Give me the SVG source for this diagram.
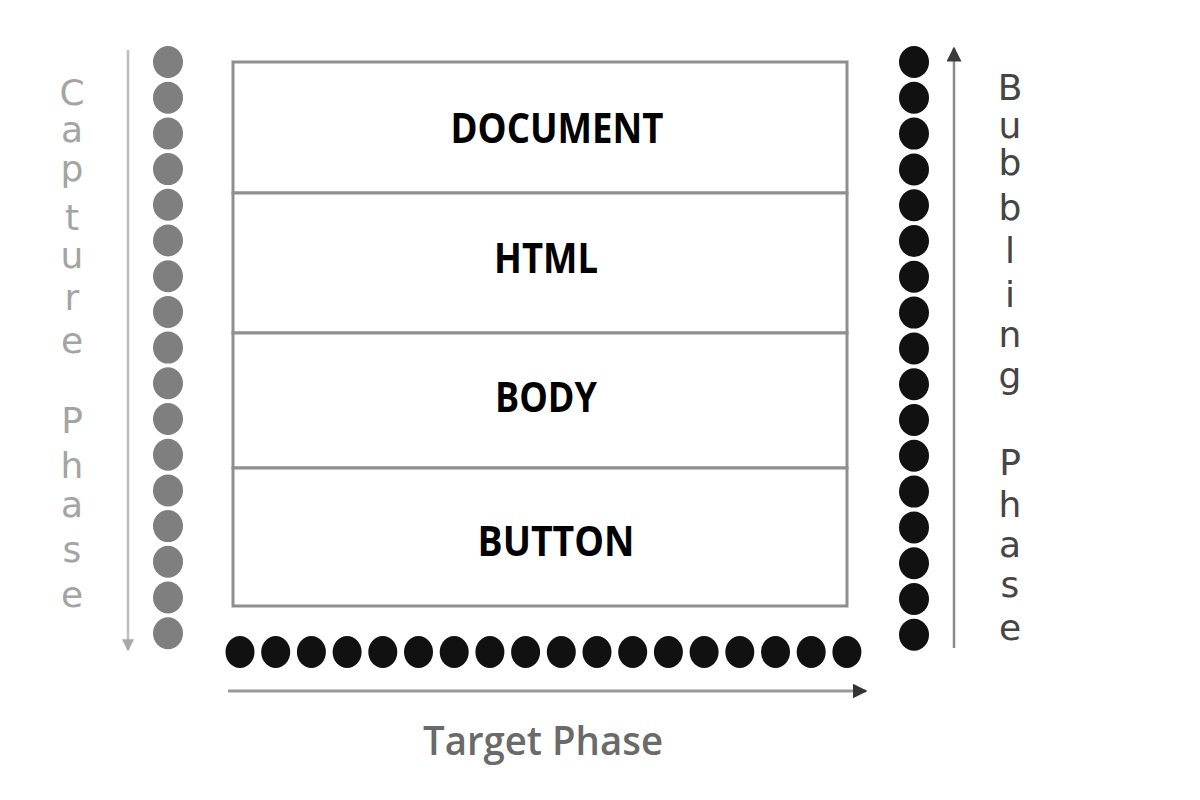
<svg xmlns="http://www.w3.org/2000/svg" width="1200" height="800" viewBox="0 0 1200 800">
  <style>
    .layer { fill: #ffffff; stroke: #8f8f8f; stroke-width: 3; }
    .label { font-family: "Open Sans", "DejaVu Sans", sans-serif; font-weight: 700; font-size: 42px; fill: #000; text-anchor: middle; }
    .cap { font-family: "DejaVu Sans", "Open Sans", sans-serif; font-size: 36px; fill: #a4a4a4; text-anchor: middle; }
    .bub { font-family: "DejaVu Sans", "Open Sans", sans-serif; font-size: 36px; fill: #454545; text-anchor: middle; }
    .tgt { font-family: "Open Sans", "DejaVu Sans", sans-serif; font-weight: 600; font-size: 40px; fill: #6a6a6a; text-anchor: middle; }
    .gdot { fill: #7f7f7f; }
    .bdot { fill: #111111; }
  </style>
  <defs>
    <marker id="ahLight" viewBox="0 0 10 10" refX="9" refY="5" markerWidth="12" markerHeight="12" markerUnits="userSpaceOnUse" orient="auto">
      <path d="M0,0 L10,5 L0,10 z" fill="#a8a8a8"/>
    </marker>
    <marker id="ahDark" viewBox="0 0 10 10" refX="9" refY="5" markerWidth="6" markerHeight="6" orient="auto">
      <path d="M0,0 L10,5 L0,10 z" fill="#3a3a3a"/>
    </marker>
    <marker id="ahMid" viewBox="0 0 10 10" refX="9" refY="5" markerWidth="5" markerHeight="5" orient="auto">
      <path d="M0,0 L10,5 L0,10 z" fill="#333"/>
    </marker>
  </defs>
  <rect width="1200" height="800" fill="#ffffff"/>

  <g id="node-document">
    <rect class="layer" x="233" y="62" width="614" height="131"/>
    <text class="label" x="557" y="143" textLength="213" lengthAdjust="spacingAndGlyphs">DOCUMENT</text>
  </g>
  <g id="node-html">
    <rect class="layer" x="233" y="193" width="614" height="140"/>
    <text class="label" x="546" y="273" textLength="104" lengthAdjust="spacingAndGlyphs">HTML</text>
  </g>
  <g id="node-body">
    <rect class="layer" x="233" y="333" width="614" height="135"/>
    <text class="label" x="546" y="412" textLength="102" lengthAdjust="spacingAndGlyphs">BODY</text>
  </g>
  <g id="node-button">
    <rect class="layer" x="233" y="468" width="614" height="138"/>
    <text class="label" x="556" y="556" textLength="157" lengthAdjust="spacingAndGlyphs">BUTTON</text>
  </g>

  <g id="capture-dots">
    <ellipse class="gdot" cx="168" cy="62" rx="15" ry="16"/>
    <ellipse class="gdot" cx="168" cy="97.7" rx="15" ry="16"/>
    <ellipse class="gdot" cx="168" cy="133.4" rx="15" ry="16"/>
    <ellipse class="gdot" cx="168" cy="169.1" rx="15" ry="16"/>
    <ellipse class="gdot" cx="168" cy="204.8" rx="15" ry="16"/>
    <ellipse class="gdot" cx="168" cy="240.5" rx="15" ry="16"/>
    <ellipse class="gdot" cx="168" cy="276.2" rx="15" ry="16"/>
    <ellipse class="gdot" cx="168" cy="311.9" rx="15" ry="16"/>
    <ellipse class="gdot" cx="168" cy="347.6" rx="15" ry="16"/>
    <ellipse class="gdot" cx="168" cy="383.3" rx="15" ry="16"/>
    <ellipse class="gdot" cx="168" cy="419" rx="15" ry="16"/>
    <ellipse class="gdot" cx="168" cy="454.7" rx="15" ry="16"/>
    <ellipse class="gdot" cx="168" cy="490.4" rx="15" ry="16"/>
    <ellipse class="gdot" cx="168" cy="526.1" rx="15" ry="16"/>
    <ellipse class="gdot" cx="168" cy="561.8" rx="15" ry="16"/>
    <ellipse class="gdot" cx="168" cy="597.5" rx="15" ry="16"/>
    <ellipse class="gdot" cx="168" cy="633.2" rx="15" ry="16"/>
  </g>

  <g id="bubbling-dots">
    <ellipse class="bdot" cx="914" cy="62" rx="15" ry="16"/>
    <ellipse class="bdot" cx="914" cy="97.8" rx="15" ry="16"/>
    <ellipse class="bdot" cx="914" cy="133.6" rx="15" ry="16"/>
    <ellipse class="bdot" cx="914" cy="169.4" rx="15" ry="16"/>
    <ellipse class="bdot" cx="914" cy="205.2" rx="15" ry="16"/>
    <ellipse class="bdot" cx="914" cy="241" rx="15" ry="16"/>
    <ellipse class="bdot" cx="914" cy="276.8" rx="15" ry="16"/>
    <ellipse class="bdot" cx="914" cy="312.6" rx="15" ry="16"/>
    <ellipse class="bdot" cx="914" cy="348.4" rx="15" ry="16"/>
    <ellipse class="bdot" cx="914" cy="384.2" rx="15" ry="16"/>
    <ellipse class="bdot" cx="914" cy="420" rx="15" ry="16"/>
    <ellipse class="bdot" cx="914" cy="455.8" rx="15" ry="16"/>
    <ellipse class="bdot" cx="914" cy="491.6" rx="15" ry="16"/>
    <ellipse class="bdot" cx="914" cy="527.4" rx="15" ry="16"/>
    <ellipse class="bdot" cx="914" cy="563.2" rx="15" ry="16"/>
    <ellipse class="bdot" cx="914" cy="599" rx="15" ry="16"/>
    <ellipse class="bdot" cx="914" cy="634.8" rx="15" ry="16"/>
  </g>

  <g id="target-dots">
    <ellipse class="bdot" cx="240" cy="652" rx="14.5" ry="16"/>
    <ellipse class="bdot" cx="275.7" cy="652" rx="14.5" ry="16"/>
    <ellipse class="bdot" cx="311.4" cy="652" rx="14.5" ry="16"/>
    <ellipse class="bdot" cx="347.1" cy="652" rx="14.5" ry="16"/>
    <ellipse class="bdot" cx="382.8" cy="652" rx="14.5" ry="16"/>
    <ellipse class="bdot" cx="418.5" cy="652" rx="14.5" ry="16"/>
    <ellipse class="bdot" cx="454.2" cy="652" rx="14.5" ry="16"/>
    <ellipse class="bdot" cx="489.9" cy="652" rx="14.5" ry="16"/>
    <ellipse class="bdot" cx="525.6" cy="652" rx="14.5" ry="16"/>
    <ellipse class="bdot" cx="561.3" cy="652" rx="14.5" ry="16"/>
    <ellipse class="bdot" cx="597" cy="652" rx="14.5" ry="16"/>
    <ellipse class="bdot" cx="632.7" cy="652" rx="14.5" ry="16"/>
    <ellipse class="bdot" cx="668.4" cy="652" rx="14.5" ry="16"/>
    <ellipse class="bdot" cx="704.1" cy="652" rx="14.5" ry="16"/>
    <ellipse class="bdot" cx="739.8" cy="652" rx="14.5" ry="16"/>
    <ellipse class="bdot" cx="775.5" cy="652" rx="14.5" ry="16"/>
    <ellipse class="bdot" cx="811.2" cy="652" rx="14.5" ry="16"/>
    <ellipse class="bdot" cx="846.9" cy="652" rx="14.5" ry="16"/>
  </g>

  <g id="connectors">
    <line x1="128" y1="50" x2="128" y2="650" stroke="#bdbdbd" stroke-width="2.5" marker-end="url(#ahLight)"/>
    <line x1="954" y1="648" x2="954" y2="48" stroke="#8a8a8a" stroke-width="2.5" marker-end="url(#ahDark)"/>
    <line x1="228" y1="691" x2="866" y2="691" stroke="#999999" stroke-width="3" marker-end="url(#ahMid)"/>
  </g>

  <g id="capture-label">
    <text class="cap" x="72" y="105">C</text>
    <text class="cap" x="72" y="142">a</text>
    <text class="cap" x="72" y="181">p</text>
    <text class="cap" x="72" y="230">t</text>
    <text class="cap" x="72" y="268">u</text>
    <text class="cap" x="72" y="310">r</text>
    <text class="cap" x="72" y="353">e</text>
    <text class="cap" x="72" y="433">P</text>
    <text class="cap" x="72" y="478">h</text>
    <text class="cap" x="72" y="517">a</text>
    <text class="cap" x="72" y="562">s</text>
    <text class="cap" x="72" y="607">e</text>
  </g>

  <g id="bubbling-label">
    <text class="bub" x="1010" y="100">B</text>
    <text class="bub" x="1010" y="138">u</text>
    <text class="bub" x="1010" y="175">b</text>
    <text class="bub" x="1010" y="220">b</text>
    <text class="bub" x="1010" y="263">l</text>
    <text class="bub" x="1010" y="307">i</text>
    <text class="bub" x="1010" y="347">n</text>
    <text class="bub" x="1010" y="388">g</text>
    <text class="bub" x="1010" y="475">P</text>
    <text class="bub" x="1010" y="517">h</text>
    <text class="bub" x="1010" y="557">a</text>
    <text class="bub" x="1010" y="597">s</text>
    <text class="bub" x="1010" y="640">e</text>
  </g>

  <g id="target-label">
    <text class="tgt" x="543" y="755" textLength="240" lengthAdjust="spacingAndGlyphs">Target Phase</text>
  </g>
</svg>
